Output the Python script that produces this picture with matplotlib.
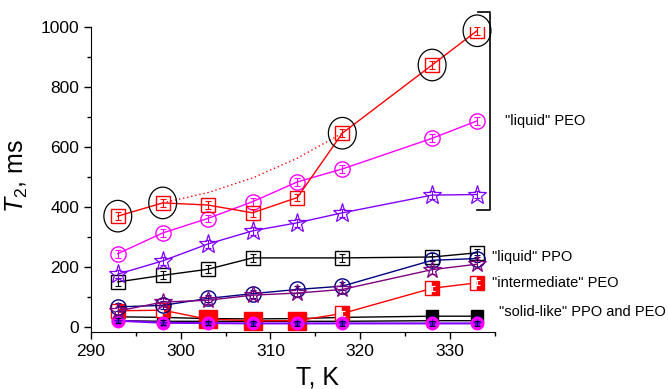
import matplotlib
matplotlib.use("Agg")
import matplotlib.pyplot as plt
from matplotlib.patches import Ellipse
from matplotlib.ticker import MultipleLocator

plt.rcParams['font.family'] = ['Liberation Sans', 'DejaVu Sans']
plt.rcParams['mathtext.fontset'] = 'custom'
plt.rcParams['mathtext.rm'] = 'Liberation Sans'
plt.rcParams['mathtext.it'] = 'Liberation Sans:italic'

# temperatures, K
temp = [293, 298, 303, 308, 313, 318, 328, 333]

# "liquid" PEO
peo_liq_red = [370, 414, 407, 381, 432, 646, 873, 987]
peo_liq_mag = [245, 314, 362, 418, 484, 527, 629, 687]
peo_liq_star = [177, 221, 277, 321, 348, 381, 440, 442]

# "liquid" PPO
ppo_liq_sq_t = [293, 298, 303, 308, 318, 328, 333]
ppo_liq_sq = [151, 173, 193, 231, 231, 234, 248]
ppo_liq_circ = [68, 73, 96, 112, 126, 137, 223, 229]
ppo_liq_star = [54, 84, 90, 107, 114, 126, 192, 210]

# "intermediate" PEO
peo_int = [55, 57, 27, 22, 22, 46, 130, 148]

# "solid-like" PPO and PEO
solid_sq = [35, 33, 29, 28, 29, 33, 37, 37]
solid_dark = [22, 20, 20, 20, 20, 20, 22, 22]
solid_mag = [22, 15, 14, 13, 13, 13, 13, 13]

# dotted guide for the red series
guide_t = [298, 303, 308, 313, 318]
guide_y = [414, 448, 497, 563, 646]

# circled points
circled_t = [293, 298, 318, 328, 333]
circled_y = [370, 414, 646, 873, 987]

fig = plt.figure(figsize=(6.68, 3.89), dpi=100)
ax = fig.add_axes([0.136, 0.147, 0.605, 0.784])

err = 13
ekw = dict(capsize=2.5, elinewidth=0.8, capthick=0.8)

# solid-like first (bottom layer)
ax.plot(temp, solid_sq, color='black', lw=1, marker='s', ms=9, mfc='black', mec='black', zorder=2)
ax.plot(temp, solid_dark, color='black', lw=1, marker='o', ms=7, mfc='#000080', mec='#000080', zorder=2)

# intermediate PEO
ax.plot(temp, peo_int, color='red', lw=1, zorder=3)
ax.plot(temp[2:5], peo_int[2:5], ls='none', marker='s', ms=12.5, mfc='red', mec='red', zorder=3)
ax.plot(temp[:2] + temp[5:], peo_int[:2] + peo_int[5:], ls='none', marker='s', ms=9.5,
        fillstyle='right', mfc='red', mfcalt='white', mec='red', zorder=3)
ax.errorbar(temp, peo_int, yerr=err * 0.6, fmt='none', ecolor='white', **ekw, zorder=3.5)

ax.plot(temp, solid_mag, color='#8000ff', lw=1.5, marker='o', ms=9, mfc='#ff00ff', mec='#ff00ff', zorder=4)
ax.plot(temp, solid_mag, ls='none', marker='*', ms=6, mfc='#8000ff', mec='#3000c0', mew=0.5, zorder=4)
ax.errorbar(temp, solid_mag, yerr=err * 0.6, fmt='none', ecolor='#000040', **ekw, zorder=4.5)

# liquid PPO
ax.errorbar(ppo_liq_sq_t, ppo_liq_sq, yerr=err, color='black', lw=1, marker='s', ms=10,
            mfc='none', mec='black', **ekw, zorder=5)
ax.errorbar(temp, ppo_liq_circ, yerr=err, color='#000080', lw=1, marker='o', ms=11,
            mfc='none', mec='#000080', **ekw, zorder=5)
ax.errorbar(temp, ppo_liq_star, yerr=err, color='#800080', lw=1, marker='*', ms=13,
            mfc='none', mec='#800080', mew=0.9, **ekw, zorder=5)

# liquid PEO
ax.errorbar(temp, peo_liq_star, yerr=err, color='#8000ff', lw=1, marker='*', ms=14,
            mfc='none', mec='#8000ff', mew=0.9, **ekw, zorder=6)
ax.errorbar(temp, peo_liq_mag, yerr=err, color='#ff00ff', lw=1, marker='o', ms=11,
            mfc='none', mec='#ff00ff', **ekw, zorder=6)
ax.errorbar(temp, peo_liq_red, yerr=err, color='red', lw=1, marker='s', ms=10,
            mfc='none', mec='red', **ekw, zorder=7)
ax.plot(guide_t, guide_y, color='red', lw=1, ls=(0, (1, 2)), zorder=6)

for t, y in zip(circled_t, circled_y):
    ax.add_patch(Ellipse((t, y), 3.1, 105, fill=False, ec='black', lw=0.9,
                         clip_on=False, zorder=8))

# bracket for "liquid" PEO
ax.plot([333.1, 334.5, 334.5, 332.95], [1051, 1051, 390, 390], color='black', lw=1.2,
        clip_on=False, zorder=8)

tkw = dict(fontsize=10.5, va='center', ha='left', clip_on=False)
ax.text(336.1, 688, '"liquid" PEO', **tkw)
ax.text(334.7, 234, '"liquid" PPO', **tkw)
ax.text(334.7, 146, '"intermediate" PEO', **tkw)
ax.text(335.5, 51, '"solid-like" PPO and PEO', **tkw)

ax.set_xlim(290, 335)
ax.set_ylim(-15, 1000)
ax.xaxis.set_major_locator(MultipleLocator(10))
ax.xaxis.set_minor_locator(MultipleLocator(5))
ax.yaxis.set_major_locator(MultipleLocator(200))
ax.yaxis.set_minor_locator(MultipleLocator(100))
ax.tick_params(which='major', direction='out', length=5, width=1, labelsize=12.5)
ax.tick_params(which='minor', direction='out', length=3, width=1)
ax.spines['top'].set_visible(False)
ax.spines['right'].set_visible(False)

ax.set_xlabel('T, K', fontsize=18)
ax.xaxis.set_label_coords(0.562, -0.112)
ax.set_ylabel(r'$T_{\mathrm{2}}$, ms', fontsize=18)
ax.yaxis.set_label_coords(-0.15, 0.51)

fig.savefig('out.png', dpi=100)
